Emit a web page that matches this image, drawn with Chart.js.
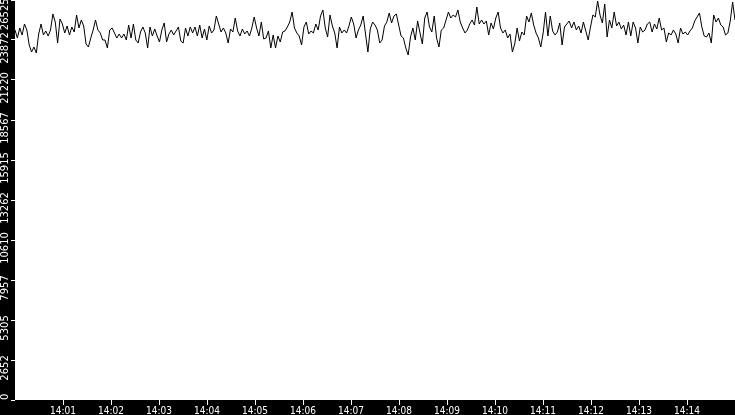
<!DOCTYPE html>
<html>
<head>
<meta charset="utf-8">
<script src="https://cdn.jsdelivr.net/npm/chart.js@4.4.1/dist/chart.umd.min.js"></script>
<style>
  html, body { margin: 0; padding: 0; background: #000; }
  #wrap { width: 735px; height: 415px; }
</style>
</head>
<body>
<div id="wrap"><canvas id="rateChart"></canvas></div>
<script>
// axis labels
const xTickLabels = ['14:01', '14:02', '14:03', '14:04', '14:05', '14:06', '14:07',
                     '14:08', '14:09', '14:10', '14:11', '14:12', '14:13', '14:14'];
const yTickLabels = ['0', '2652', '5305', '7957', '10610', '13262', '15915',
                     '18567', '21220', '23872', '26525'];

// 14:00:00 -> 14:15:00, seconds
const spanSeconds = 900;
const yMax = 26525;

// samples, left to right
const values = [
  24536, 24006, 24669, 24205, 24934, 24536, 23542, 23077, 23409, 23011, 24271, 24934, 24205, 24470, 24138, 24536, 25597, 25066, 23674,
  25265, 24934, 24337, 24801, 24205, 24735, 24403, 25530, 24669, 25199, 24801, 23608, 23409, 24006, 24536, 25199, 24536, 24337, 23873,
  23873, 23343, 24536, 24669, 24337, 24006, 24271, 24006, 24271, 23873, 24867, 24006, 24934, 23873, 23674, 24403, 24735, 24337, 23343,
  24735, 24138, 24602, 24138, 23740, 24536, 25000, 23740, 24271, 24536, 24205, 24470, 24735, 23807, 23674, 24669, 24138, 24735, 24337,
  24735, 24138, 24867, 24006, 24602, 23873, 24801, 24337, 24536, 25464, 24934, 24403, 24669, 24337, 23674, 24602, 24403, 25332, 24470,
  24138, 24602, 24271, 24470, 24138, 24669, 25398, 24669, 24138, 25066, 23939, 24006, 24470, 23343, 24205, 23343, 24138, 23740, 24403,
  24470, 24735, 25066, 25729, 24669, 24337, 24138, 23542, 24735, 25066, 24271, 24470, 24337, 24934, 24536, 25464, 25862, 24669, 24072,
  25530, 24801, 24337, 23343, 24735, 24337, 24536, 24337, 24801, 25398, 24934, 24006, 24536, 24867, 25464, 24271, 23077, 24602, 25066,
  24867, 24536, 23674, 23873, 24801, 25066, 25663, 25000, 25464, 25597, 24867, 24138, 24006, 23343, 22879, 24072, 24669, 23873, 25133,
  24337, 23608, 25332, 25729, 24735, 24403, 25464, 24006, 23409, 24536, 24669, 25199, 25729, 25332, 25530, 25398, 25862, 25066, 24669,
  24337, 24536, 24934, 25199, 24867, 26061, 24934, 25199, 24934, 25133, 24205, 25000, 24602, 25332, 25729, 24669, 24337, 24536, 24006,
  24271, 23077, 23608, 24669, 23807, 24403, 24205, 25464, 25066, 25663, 24867, 24337, 24006, 23409, 24337, 25729, 24138, 25464, 24470,
  24205, 24403, 25000, 23542, 24735, 24934, 25133, 24669, 25066, 24536, 24801, 24337, 25066, 24470, 23873, 24735, 25530, 25398, 26459,
  25530, 25000, 26260, 24072, 25199, 24669, 25729, 24801, 25066, 24602, 24867, 24205, 25066, 24138, 25066, 24669, 23674, 24735, 24403,
  24536, 24934, 25066, 24403, 24934, 24602, 25332, 24536, 24669, 23740, 24337, 24205, 24536, 24271, 23674, 24669, 24271, 24403, 24205,
  24470, 24669, 25133, 25398, 25663, 24735, 24138, 24072, 24337, 23674, 25530, 25066, 25332, 24867, 24735, 24205, 24337, 25133, 26392, 25199
];

const points = values.map((v, i) => ({ x: i * spanSeconds / (values.length - 1), y: v }));

Chart.defaults.font.family = "'DejaVu Sans Condensed', 'DejaVu Sans', sans-serif";
Chart.defaults.font.size = 10;

// black canvas, white plot area
const plotBackground = {
  id: 'plotBackground',
  beforeDraw(chart) {
    const { ctx, chartArea: a } = chart;
    ctx.save();
    ctx.fillStyle = '#000';
    ctx.fillRect(0, 0, chart.width, chart.height);
    ctx.fillStyle = '#fff';
    ctx.fillRect(a.left, a.top, a.right - a.left, a.bottom - a.top);
    ctx.restore();
  }
};

// fixed strip sizes, no extra room for overhanging labels
const noPad = s => { s.paddingTop = 0; s.paddingBottom = 0; s.paddingLeft = 0; s.paddingRight = 0; };

// rotated y labels sit a little below their tick; the end ones are kept inside the strip
const yLabel = (v, i) => {
  const last = yTickLabels.length - 1;
  if (i === 0) return '  ' + yTickLabels[i];
  if (i === last) return yTickLabels[i] + '         ';
  return yTickLabels[i] + '     ';
};

new Chart(document.getElementById('rateChart'), {
  type: 'line',
  data: {
    datasets: [{
      data: points,
      borderColor: '#000',
      borderWidth: 1,
      pointRadius: 0,
      tension: 0,
      fill: false,
    }]
  },
  options: {
    responsive: true,
    maintainAspectRatio: false,
    animation: false,
    layout: { padding: 0 },
    plugins: { legend: { display: false }, tooltip: { enabled: false } },
    scales: {
      x: {
        type: 'linear',
        min: 0,
        max: spanSeconds,
        border: { display: false },
        grid: { drawOnChartArea: false, drawTicks: true, tickLength: 5, color: '#fff' },
        ticks: { stepSize: 60, color: '#fff', padding: 0, maxRotation: 0, autoSkip: false,
                 callback: (v, i) => xTickLabels[i] },
        afterBuildTicks: s => { s.ticks = s.ticks.filter(t => t.value > 0 && t.value < spanSeconds); },
        afterFit: s => { s.height = 15; noPad(s); }
      },
      y: {
        min: 0,
        max: yMax,
        border: { display: false },
        grid: { drawOnChartArea: false, drawTicks: true, tickLength: 4, color: '#fff' },
        ticks: { stepSize: 2652.5, color: '#fff', padding: -25, minRotation: 90, maxRotation: 90,
                 crossAlign: 'center', autoSkip: false, callback: yLabel,
                 font: { family: "'DejaVu Sans', sans-serif", size: 10 } },
        afterFit: s => { s.width = 15; noPad(s); }
      }
    }
  },
  plugins: [plotBackground]
});
</script>
</body>
</html>
